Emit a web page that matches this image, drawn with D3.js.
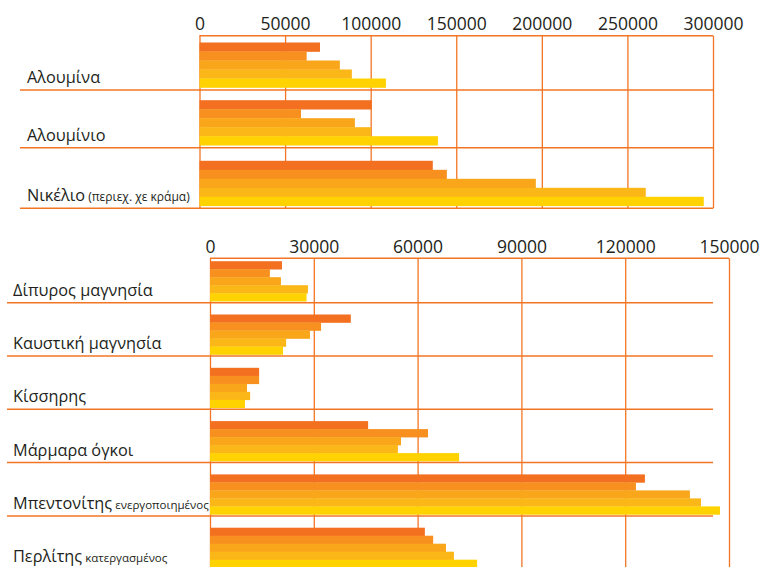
<!DOCTYPE html>
<html><head><meta charset="utf-8">
<script src="https://cdn.jsdelivr.net/npm/d3@7"></script>
<style>body{margin:0;background:#fff}svg{display:block}</style>
</head><body><svg id="c" width="760" height="567"></svg>
<script>
// ---- data ----
const seriesNames = ["s1","s2","s3","s4","s5"];
const seriesColors = ["#F37021","#F7901E","#F9A61B","#FBB617","#FFD200"];

const topCategories = ["Αλουμίνα","Αλουμίνιο","Νικέλιο"];
const topSubLabels = ["","","(περιεχ. χε κράμα)"];
const topValues = [
  [70400, 62600, 82000, 89000, 108900],
  [100700, 59300, 90800, 100100, 139300],
  [136300, 144500, 196500, 260700, 294600]
];
const topTicks = [0, 50000, 100000, 150000, 200000, 250000, 300000];

const bottomCategories = ["Δίπυρος μαγνησία","Καυστική μαγνησία","Κίσσηρης","Μάρμαρα όγκοι","Μπεντονίτης","Περλίτης"];
const bottomSubLabels = ["","","","","ενεργοποιημένος","κατεργασμένος"];
const bottomValues = [
  [20800, 17300, 20500, 28300, 27900],
  [40700, 32100, 28900, 22000, 21100],
  [14200, 14200, 10700, 11600, 10100],
  [45700, 63000, 55200, 54300, 72000],
  [125700, 123100, 138700, 141900, 147400],
  [62100, 64500, 68200, 70500, 77200]
];
const bottomTicks = [0, 30000, 60000, 90000, 120000, 150000];

// ---- drawing ----
const svg = d3.select("#c");
const lineColor = "#F37524";
const textColor = "#231F20";
const font = "'Open Sans', sans-serif";

function panel(cfg) {
  const g = svg.append("g");
  const x = d3.scaleLinear().domain([0, cfg.max]).range([cfg.x0, cfg.x1]);

  // vertical grid + tick labels
  const axis = d3.axisTop(x).tickValues(cfg.ticks).tickFormat(d3.format("d"))
    .tickSize(-(cfg.gridBottom - cfg.top)).tickPadding(cfg.tickPad);
  const ag = g.append("g").attr("transform", `translate(0,${cfg.top})`).call(axis);
  ag.select(".domain").remove();
  ag.selectAll(".tick line").attr("stroke", lineColor).attr("stroke-width", 1.3);
  ag.selectAll(".tick text").attr("fill", textColor).style("font-family", font)
    .style("font-size", "17.5px");

  // top border
  g.append("line").attr("x1", x(0)).attr("x2", x(cfg.max))
    .attr("y1", cfg.top).attr("y2", cfg.top)
    .attr("stroke", lineColor).attr("stroke-width", 1.5);

  // bars
  cfg.values.forEach((vals, i) => {
    const rb = cfg.rowEdges[i + 1] - cfg.barGap;
    const y = d3.scaleBand().domain(seriesNames)
      .range([rb - cfg.barH * seriesNames.length, rb]).padding(0);
    g.append("g").selectAll("rect").data(vals).join("rect")
      .attr("x", x(0)).attr("y", (d, j) => y(seriesNames[j]))
      .attr("width", d => x(d) - x(0)).attr("height", y.bandwidth() + 0.3)
      .attr("fill", (d, j) => seriesColors[j]);
  });

  // row separators
  cfg.rowEdges.slice(1).forEach(e => {
    g.append("line").attr("x1", cfg.sepX0).attr("x2", cfg.sepX1)
      .attr("y1", e).attr("y2", e)
      .attr("stroke", lineColor).attr("stroke-width", 1.5);
  });

  // labels
  cfg.categories.forEach((c, i) => {
    const t = g.append("text").attr("x", cfg.labelX)
      .attr("y", cfg.rowEdges[i + 1] - cfg.labelOff)
      .attr("fill", textColor).style("font-family", font).style("font-size", "16.3px");
    t.append("tspan").text(c);
    if (cfg.subs[i]) t.append("tspan").style("font-size", cfg.subSize).text(" " + cfg.subs[i]);
  });
}

const topEdges = [35.7, 90, 147.7, 208.3];
panel({
  max: 300000, x0: 199.5, x1: 713, ticks: topTicks, top: 35.7, gridBottom: 208.3,
  tickPad: 6, rowEdges: topEdges, values: topValues, categories: topCategories,
  subs: topSubLabels, subSize: "12px", barH: 9, barGap: 2.5, sepX0: 20, sepX1: 713,
  labelX: 27, labelOff: 7
});

const bTop = 258.3, bFirst = 302.7, bRow = 53.3;
const bottomEdges = [bTop].concat(d3.range(bottomCategories.length).map(i => bFirst + i * bRow));
panel({
  max: 150000, x0: 210, x1: 729, ticks: bottomTicks, top: bTop, gridBottom: 580,
  tickPad: 5, rowEdges: bottomEdges, values: bottomValues, categories: bottomCategories,
  subs: bottomSubLabels, subSize: "11.5px", barH: 8, barGap: 1.5, sepX0: 7, sepX1: 713,
  labelX: 13, labelOff: 7
});
</script></body></html>
